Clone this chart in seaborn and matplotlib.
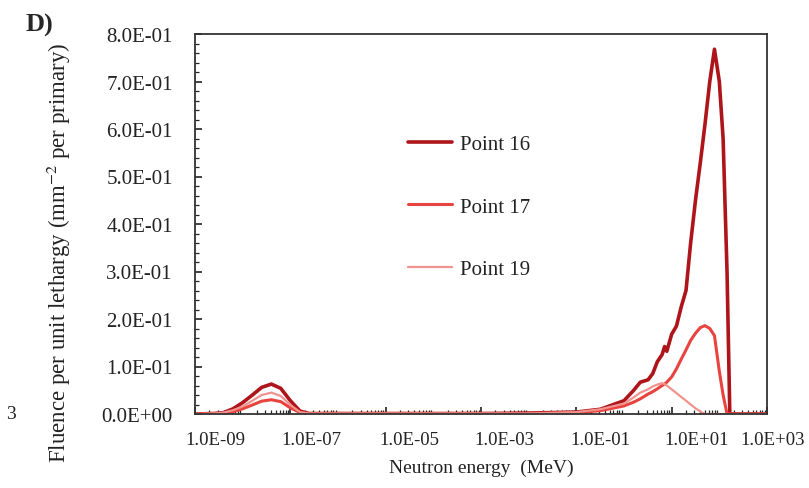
import matplotlib
matplotlib.use("Agg")
import matplotlib.pyplot as plt
import matplotlib.transforms as mtrans
from matplotlib.ticker import LogLocator, NullFormatter, FixedLocator, MultipleLocator
import seaborn as sns
import pandas as pd

# ---- data ----
energy_mev = [1.0e-9, 2.5e-9, 4.0e-9, 6.3e-9, 1.0e-8, 1.6e-8, 2.5e-8, 4.0e-8, 6.3e-8,
              1.0e-7, 1.6e-7, 2.5e-7, 1.0e-6, 1.0e-5, 1.0e-4, 1.0e-3, 1.0e-2, 1.0e-1,
              0.32, 1.0, 1.6, 2.2, 3.2, 4.0, 5.0, 6.3, 7.1, 7.9, 10.0, 12.6, 15.8,
              20.0, 25.0, 31.6, 40.0, 50.0, 63.0, 79.0, 100.0, 120.0, 145.0, 166.0,
              250.0, 1000.0]

point16 = [0.0, 0.001, 0.003, 0.011, 0.024, 0.040, 0.056, 0.063, 0.054,
           0.028, 0.006, 0.001, 0.001, 0.001, 0.001, 0.001, 0.002, 0.004,
           0.010, 0.028, 0.050, 0.067, 0.072, 0.085, 0.110, 0.125, 0.142, 0.132,
           0.168, 0.185, 0.225, 0.260, 0.360, 0.450, 0.530, 0.610, 0.700, 0.768,
           0.700, 0.580, 0.300, 0.0, 0.0, 0.0]

point17 = [0.0, 0.001, 0.002, 0.005, 0.011, 0.019, 0.027, 0.030, 0.026,
           0.013, 0.003, 0.001, 0.001, 0.001, 0.001, 0.001, 0.001, 0.003,
           0.007, 0.017, 0.025, 0.032, 0.042, 0.047, 0.053, 0.060, 0.063, 0.067,
           0.078, 0.095, 0.115, 0.135, 0.155, 0.170, 0.182, 0.186, 0.180, 0.165,
           0.090, 0.040, 0.0, 0.0, 0.0, 0.0]

point19 = [0.0, 0.001, 0.003, 0.008, 0.016, 0.028, 0.040, 0.045, 0.038,
           0.019, 0.004, 0.001, 0.001, 0.001, 0.001, 0.001, 0.001, 0.004,
           0.010, 0.022, 0.035, 0.045, 0.052, 0.058, 0.062, 0.065, 0.063, 0.060,
           0.052, 0.044, 0.036, 0.028, 0.020, 0.012, 0.005, 0.0, 0.0, 0.0,
           0.0, 0.0, 0.0, 0.0, 0.0, 0.0]

series_names = ["Point 16", "Point 17", "Point 19"]
x_tick_values = [1e-9, 1e-7, 1e-5, 1e-3, 1e-1, 1e1, 1e3]
x_tick_labels = ["1.0E-09", "1.0E-07", "1.0E-05", "1.0E-03", "1.0E-01", "1.0E+01", "1.0E+03"]
y_tick_values = [0.0, 0.1, 0.2, 0.3, 0.4, 0.5, 0.6, 0.7, 0.8]
y_tick_labels = ["0.0E+00", "1.0E-01", "2.0E-01", "3.0E-01", "4.0E-01",
                 "5.0E-01", "6.0E-01", "7.0E-01", "8.0E-01"]

frames = []
for name, vals in zip(series_names, [point16, point17, point19]):
    frames.append(pd.DataFrame({"energy": energy_mev, "fluence": vals, "series": name}))
df = pd.concat(frames, ignore_index=True)

# ---- style ----
sns.set_style("ticks")
plt.rcParams["font.family"] = ["Liberation Serif", "DejaVu Serif"]
plt.rcParams["mathtext.fontset"] = "stix"

palette = {"Point 16": "#AE151B", "Point 17": "#E8433E", "Point 19": "#F0928E"}
sizes = {"Point 16": 2.6, "Point 17": 2.2, "Point 19": 1.6}
text_col = "#222222"

fig = plt.figure(figsize=(8.09, 4.89), dpi=100)
ax = fig.add_axes([195 / 809, 1 - 415 / 489, (767 - 195) / 809, (415 - 35) / 489])

sns.lineplot(data=df, x="energy", y="fluence", hue="series", hue_order=series_names,
             palette=palette, size="series", sizes=sizes, size_order=series_names,
             ax=ax, legend=True, estimator=None, sort=False)

ax.set_xscale("log")
ax.set_xlim(1e-9, 1e3)
ax.set_ylim(0, 0.8)

ax.set_xticks(x_tick_values)
ax.set_xticklabels(x_tick_labels)
ax.xaxis.set_minor_locator(LogLocator(base=10, subs=range(2, 10), numticks=100))
ax.xaxis.set_minor_formatter(NullFormatter())
ax.set_yticks(y_tick_values)
ax.set_yticklabels(y_tick_labels)
ax.yaxis.set_minor_locator(MultipleLocator(0.02))

ax.tick_params(axis="both", which="major", direction="in", length=5, width=1.2, colors=text_col)
ax.tick_params(axis="both", which="minor", direction="in", length=3, width=0.9, colors=text_col)
ax.tick_params(axis="y", which="major", pad=16, labelsize=15)
ax.tick_params(axis="x", which="major", pad=12, labelsize=13.5)
for sp in ax.spines.values():
    sp.set_visible(True)
    sp.set_linewidth(1.3)
    sp.set_color("#333333")

# shift x tick labels as in the reference
offsets = [15, 15, 17, 17, 17, 18, 4]
for lab, dx in zip(ax.get_xticklabels(), offsets):
    lab.set_transform(lab.get_transform() + mtrans.ScaledTranslation(dx / 72, 0, fig.dpi_scale_trans))

ax.set_xlabel("Neutron energy  (MeV)", fontsize=14, color=text_col, labelpad=8)
ax.set_ylabel("")
fig.text(0.073, 0.483, "Fluence per unit lethargy (mm$^{-2}$ per primary)", rotation=90,
         ha="center", va="center", fontsize=16.5, color=text_col)
fig.text(0.031, 0.948, "D)", fontsize=19, fontweight="bold", ha="left", va="center")
fig.text(0.008, 0.152, "3", fontsize=14, ha="left", va="center", color=text_col)

handles, labels = ax.get_legend_handles_labels()
leg = ax.legend(handles, labels, loc="center left", bbox_to_anchor=(0.372, 0.545),
                frameon=False, fontsize=15, handlelength=2.1, handletextpad=0.4,
                labelspacing=2.05, borderpad=0, borderaxespad=0)
for t in leg.get_texts():
    t.set_color(text_col)

fig.savefig("out.png", dpi=100)
